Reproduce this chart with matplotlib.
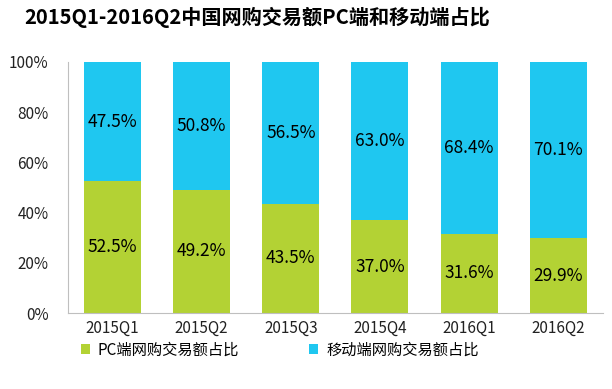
import matplotlib.pyplot as plt
import numpy as np

plt.rcParams['font.family'] = ['Noto Sans CJK SC', 'DejaVu Sans']

quarters = ['2015Q1', '2015Q2', '2015Q3', '2015Q4', '2016Q1', '2016Q2']
pc_share = [52.5, 49.2, 43.5, 37.0, 31.6, 29.9]
mobile_share = [47.5, 50.8, 56.5, 63.0, 68.4, 70.1]

green = '#B3D234'
blue = '#1FC7F0'

fig = plt.figure(figsize=(6.12, 3.89), dpi=100)
ax = fig.add_axes([0.111, 0.195, 0.874, 0.646])

x = np.arange(len(quarters))
w = 0.64
b1 = ax.bar(x, pc_share, w, color=green, label='PC端网购交易额占比')
b2 = ax.bar(x, mobile_share, w, bottom=pc_share, color=blue, label='移动端网购交易额占比')

for i in range(len(quarters)):
    ax.text(x[i], pc_share[i] / 2, f'{pc_share[i]:.1f}%', ha='center', va='center', fontsize=12.5)
    ax.text(x[i], pc_share[i] + mobile_share[i] / 2, f'{mobile_share[i]:.1f}%',
            ha='center', va='center', fontsize=12.5)

ax.set_xlim(-0.5, len(quarters) - 0.5)
ax.set_ylim(0, 100)
ax.set_yticks(range(0, 101, 20))
ax.set_yticklabels([f'{v}%' for v in range(0, 101, 20)])
ax.set_xticks(x)
ax.set_xticklabels(quarters)
ax.tick_params(axis='both', length=0, labelsize=11, colors='#222222')
ax.tick_params(axis='y', pad=14)
ax.tick_params(axis='x', pad=5)
for s in ['top', 'right']:
    ax.spines[s].set_visible(False)
for s in ['left', 'bottom']:
    ax.spines[s].set_color('#BFBFBF')

fig.text(0.42, 0.955, '2015Q1-2016Q2中国网购交易额PC端和移动端占比',
         ha='center', va='center', fontsize=14.5, fontweight='bold')

fig.legend(handles=[b1, b2], loc='center', bbox_to_anchor=(0.457, 0.1), ncol=2,
           frameon=False, fontsize=11, handlelength=0.6, handleheight=0.6,
           handletextpad=0.5, columnspacing=4.6)

fig.savefig('out.png', dpi=100)
